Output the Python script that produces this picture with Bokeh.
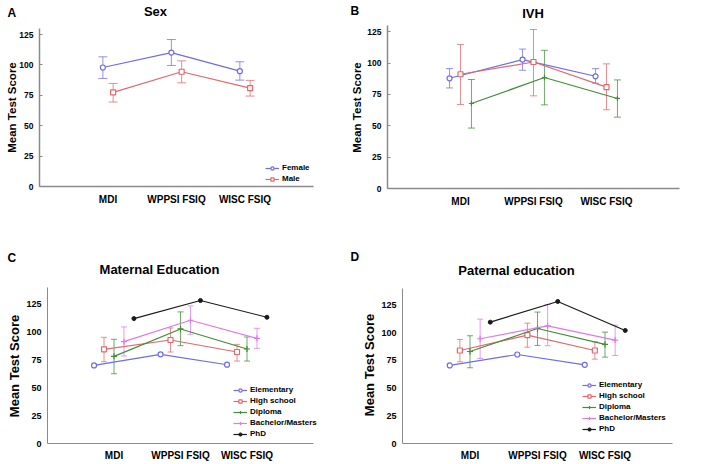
import math
from bokeh.plotting import figure
from bokeh.models import (ColumnDataSource, Whisker, TeeHead, Label, Legend,
                          LegendItem, FixedTicker, Range1d)
from bokeh.layouts import column, row
from bokeh.embed import file_html
from bokeh.resources import INLINE

FONT = "Liberation Sans"

cats = ["MDI", "WPPSI FSIQ", "WISC FSIQ"]
y_ticks = [0, 25, 50, 75, 100, 125]

# Panel A: Sex
female_mean = [97.9, 110.2, 94.9]
female_lo = [88.9, 99.6, 87.5]
female_hi = [106.7, 120.9, 102.6]
male_mean = [77.4, 94.4, 81.0]
male_lo = [69.5, 85.3, 74.4]
male_hi = [84.8, 103.4, 87.3]

# Panel B: IVH (three groups, no legend in the original)
ivh1_mean = [87.9, 102.8, 89.5]
ivh1_lo = [80.2, 94.3, 84.0]
ivh1_hi = [95.6, 111.2, 95.6]
ivh2_mean = [91.1, 100.9, 80.8]
ivh2_lo = [67.0, 73.9, 62.8]
ivh2_hi = [114.9, 126.8, 99.4]
ivh3_mean = [67.8, 88.5, 71.8]
ivh3_lo = [48.2, 66.7, 56.9]
ivh3_hi = [86.9, 110.2, 86.6]

# Panel C: Maternal education
edu_labels = ["Elementary", "High school", "Diploma", "Bachelor/Masters", "PhD"]
mat_elem = [70.1, 80.0, 70.7]
mat_hs = [84.5, 92.9, 82.1]
mat_hs_lo = [73.4, 82.1, 74.0]
mat_hs_hi = [95.3, 103.7, 89.0]
mat_dip = [78.2, 102.8, 84.8]
mat_dip_lo = [62.6, 87.8, 74.0]
mat_dip_hi = [93.5, 118.1, 95.6]
mat_bach = [91.4, 110.6, 94.4]
mat_bach_lo = [78.5, 98.0, 85.4]
mat_bach_hi = [104.6, 123.5, 103.4]
mat_phd = [112.1, 128.3, 113.3]

# Panel D: Paternal education
pat_elem = [70.5, 80.4, 71.1]
pat_hs = [84.0, 97.9, 84.0]
pat_hs_lo = [73.8, 87.0, 76.2]
pat_hs_hi = [94.0, 108.7, 91.9]
pat_dip = [83.1, 103.9, 89.5]
pat_dip_lo = [68.4, 88.6, 78.0]
pat_dip_hi = [97.3, 118.7, 100.6]
pat_bach = [94.6, 106.3, 93.4]
pat_bach_lo = [76.8, 88.3, 79.5]
pat_bach_hi = [112.3, 125.6, 106.9]
pat_phd = [109.6, 128.3, 102.1]

BLUE = "#6c6cee"
RED = "#e4676b"
GREEN = "#3f8f35"
MAGENTA = "#e277ec"
BLACK = "#1a1a1a"
AXIS = "#8a8a8a"

W, H = 347, 232


def make_fig(fl, fr, ft, fb, ymax, tick_size, xlab_size, tick_in, axis_w, xstand):
    pxx = (fr - fl) / 4.0
    pxy = (fb - ft) / float(ymax)
    p = figure(width=W, height=H, title=None,
               x_range=Range1d(-fl / pxx, 4 + (W - fr) / pxx),
               y_range=Range1d(-(H - fb) / pxy, fb / pxy), output_backend="svg",
               toolbar_location=None,
               min_border_left=0, min_border_right=0, min_border_top=0,
               min_border_bottom=0)
    p.xgrid.visible = False
    p.ygrid.visible = False
    p.outline_line_color = None
    p.xaxis.ticker = FixedTicker(ticks=[1, 2, 3])
    p.xaxis.major_label_overrides = {i + 1: c for i, c in enumerate(cats)}
    p.xaxis.fixed_location = 0
    p.xaxis.bounds = (0, 4)
    p.yaxis.ticker = FixedTicker(ticks=y_ticks)
    p.yaxis.fixed_location = 0
    p.yaxis.bounds = (0, ymax)
    for ax in (p.xaxis[0], p.yaxis[0]):
        ax.axis_line_color = AXIS
        ax.axis_line_width = axis_w
        ax.minor_tick_line_color = None
        ax.major_label_text_font = FONT
        ax.major_label_text_font_style = "bold"
        ax.major_label_text_color = "black"
        ax.major_tick_out = 0
    p.xaxis.major_tick_in = 0
    p.xaxis.major_tick_line_color = None
    p.yaxis.major_tick_in = tick_in
    p.yaxis.major_tick_line_color = AXIS if tick_in else None
    p.xaxis.major_label_text_font_size = xlab_size
    p.xaxis.major_label_standoff = xstand
    p.yaxis.major_label_text_font_size = tick_size
    p.yaxis.major_label_standoff = 6
    p._fb = fb
    return p


def txt(p, fx, fy, text, size, align="center", angle=0.0):
    p.add_layout(Label(x=fx, y=H - fy, x_units="screen", y_units="screen", text=text,
                       text_font=FONT, text_font_style="bold", text_font_size=size,
                       text_align=align, text_baseline="middle", text_color="black",
                       angle=angle))


def series(p, off, mean, lo, hi, color, marker, size, cap, lw=1.2):
    xs = [i + 1 + off for i in range(len(mean))]
    data = dict(x=xs, y=mean)
    if lo is not None:
        data["lo"] = lo
        data["hi"] = hi
    src = ColumnDataSource(data)
    if lo is not None:
        p.add_layout(Whisker(source=src, base="x", upper="hi", lower="lo",
                             line_color=color, line_alpha=0.75, line_width=1,
                             upper_head=TeeHead(size=cap, line_color=color, line_alpha=0.75),
                             lower_head=TeeHead(size=cap, line_color=color, line_alpha=0.75)))
    l = p.line("x", "y", source=src, line_color=color, line_width=lw)
    if marker == "dot":
        s = p.scatter("x", "y", source=src, marker="circle", size=size,
                      line_color=color, fill_color=color)
    else:
        s = p.scatter("x", "y", source=src, marker=marker, size=size,
                      line_color=color, fill_color="white", line_width=1.2)
    return [l, s]


def legend(p, items, loc):
    x, y_above_axis = loc
    lg = Legend(items=[LegendItem(label=t, renderers=r) for t, r in items],
                location=(x, (H - p._fb) + y_above_axis), label_text_font=FONT,
                label_text_font_style="bold",
                label_text_font_size="8px", label_text_color="black",
                glyph_width=14, glyph_height=8, label_height=8, label_standoff=3,
                spacing=2, padding=0, margin=0, border_line_color=None,
                background_fill_alpha=0)
    p.add_layout(lg)


HALF_PI = math.pi / 2

# ---- Panel A
pA = make_fig(39, 313, 28, 186, 130, "8.5px", "10px", 3, 1.5, 7)
rf = series(pA, -0.075, female_mean, female_lo, female_hi, BLUE, "circle", 5, 9)
rm = series(pA, 0.075, male_mean, male_lo, male_hi, RED, "square", 5, 9)
legend(pA, [("Female", rf), ("Male", rm)], (265, 3))
txt(pA, 155, 11, "Sex", "13px")
txt(pA, 7, 12, "A", "12px", "left")
txt(pA, 11.7, 107, "Mean Test Score", "11.5px", angle=HALF_PI)

# ---- Panel B
pB = make_fig(40, 332, 25, 188, 130, "8.5px", "10px", 3, 1.5, 7)
series(pB, -0.15, ivh1_mean, ivh1_lo, ivh1_hi, BLUE, "circle", 5, 7)
series(pB, 0.0, ivh2_mean, ivh2_lo, ivh2_hi, RED, "square", 5, 7)
series(pB, 0.15, ivh3_mean, ivh3_lo, ivh3_hi, GREEN, "cross", 5, 7)
txt(pB, 185.5, 13, "IVH", "13px")
txt(pB, 3, 10, "B", "12px", "left")
txt(pB, 9.6, 107, "Mean Test Score", "11.5px", angle=HALF_PI)

# ---- Panel C
pC = make_fig(47, 313, 55, 211, 140, "9px", "10px", 0, 1, 6)
c1 = series(pC, -0.30, mat_elem, None, None, BLUE, "circle", 5, 6)
c2 = series(pC, -0.15, mat_hs, mat_hs_lo, mat_hs_hi, RED, "square", 5, 6)
c3 = series(pC, 0.0, mat_dip, mat_dip_lo, mat_dip_hi, GREEN, "cross", 6, 6)
c4 = series(pC, 0.15, mat_bach, mat_bach_lo, mat_bach_hi, MAGENTA, "cross", 6, 6)
c5 = series(pC, 0.30, mat_phd, None, None, BLACK, "dot", 4, 6)
legend(pC, list(zip(edu_labels, [c1, c2, c3, c4, c5])), (233, 5))
txt(pC, 159, 37, "Maternal Education", "13px")
txt(pC, 7, 25, "C", "12px", "left")
txt(pC, 13.7, 133.5, "Mean Test Score", "13px", angle=HALF_PI)

# ---- Panel D
pD = make_fig(55, 325, 56, 211, 140, "9px", "10px", 0, 1, 6)
d1 = series(pD, -0.30, pat_elem, None, None, BLUE, "circle", 5, 6)
d2 = series(pD, -0.15, pat_hs, pat_hs_lo, pat_hs_hi, RED, "square", 5, 6)
d3 = series(pD, 0.0, pat_dip, pat_dip_lo, pat_dip_hi, GREEN, "cross", 6, 6)
d4 = series(pD, 0.15, pat_bach, pat_bach_lo, pat_bach_hi, MAGENTA, "cross", 6, 6)
d5 = series(pD, 0.30, pat_phd, None, None, BLACK, "dot", 4, 6)
legend(pD, list(zip(edu_labels, [d1, d2, d3, d4, d5])), (235, 10))
txt(pD, 169, 38, "Paternal education", "13px")
txt(pD, 3, 24, "D", "12px", "left")
txt(pD, 21.6, 132.5, "Mean Test Score", "13px", angle=HALF_PI)

layout = column(row(pA, pB), row(pC, pD))
open("out.html", "w").write(file_html(layout, INLINE))
